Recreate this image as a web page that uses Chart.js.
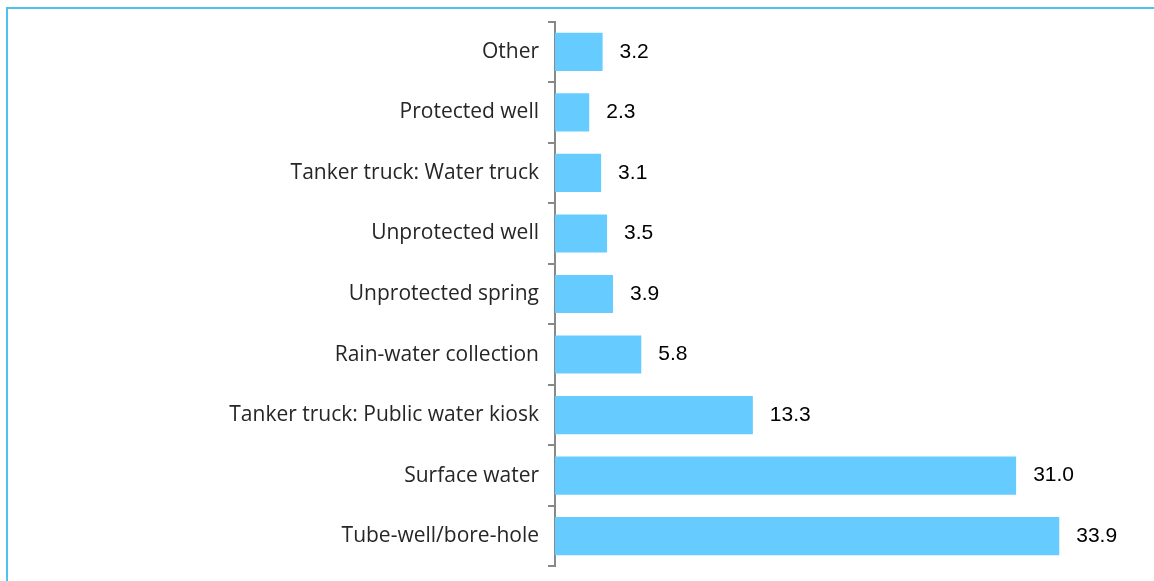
<!DOCTYPE html>
<html>
<head>
<meta charset="utf-8">
<style>
html,body{margin:0;padding:0;background:#fff;overflow:hidden;}
#wrap{position:relative;width:1154px;height:581px;overflow:hidden;}
</style>
<script src="https://cdn.jsdelivr.net/npm/chart.js@4/dist/chart.umd.min.js"></script>
</head>
<body>
<div id="wrap"><canvas id="c" width="1154" height="588"></canvas></div>
<script>
const categories = ["Other","Protected well","Tanker truck: Water truck","Unprotected well","Unprotected spring","Rain-water collection","Tanker truck: Public water kiosk","Surface water","Tube-well/bore-hole"];
const values = [3.2,2.3,3.1,3.5,3.9,5.8,13.3,31.0,33.9];

const valueLabels = {
  id:'valueLabels',
  afterDatasetsDraw(chart){
    const ctx = chart.ctx;
    const meta = chart.getDatasetMeta(0);
    ctx.save();
    ctx.font = '21px "Liberation Sans", Arial, sans-serif';
    ctx.fillStyle = '#000';
    ctx.textAlign = 'left';
    ctx.textBaseline = 'middle';
    meta.data.forEach((bar,i)=>{
      ctx.fillText(values[i].toFixed(1), bar.x + 17, bar.y);
    });
    ctx.restore();
  }
};
const frame = {
  id:'frame',
  beforeDraw(chart){
    const ctx = chart.ctx;
    ctx.save();
    ctx.strokeStyle = '#4FC2EE';
    ctx.lineWidth = 2;
    ctx.beginPath();
    ctx.moveTo(7,588);
    ctx.lineTo(7,8);
    ctx.lineTo(1154,8);
    ctx.stroke();
    ctx.restore();
  }
};

new Chart(document.getElementById('c'),{
  type:'bar',
  data:{labels:categories,datasets:[{data:values,backgroundColor:'#66CBFF',barPercentage:0.63,categoryPercentage:1}]},
  options:{
    indexAxis:'y',
    responsive:false,
    animation:false,
    layout:{padding:{top:20,bottom:4,right:4,left:0}},
    plugins:{legend:{display:false},tooltip:{enabled:false}},
    scales:{
      x:{display:false,min:0,max:40},
      y:{
        afterFit(scale){scale.width = 555;},
        grid:{offset:true,drawOnChartArea:false,color:'#888',lineWidth:2,tickLength:7},
        border:{color:'#888',width:2},
        ticks:{color:'#262626',padding:9,font:{family:'"Open Sans"',size:21}}
      }
    }
  },
  plugins:[frame,valueLabels]
});
</script>
</body>
</html>
